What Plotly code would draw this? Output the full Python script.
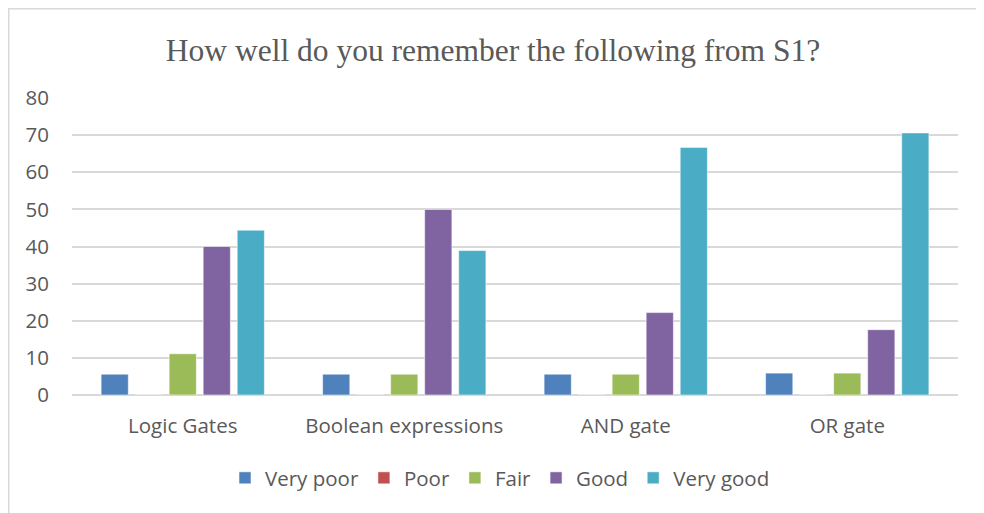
import plotly.graph_objects as go

categories = ["Logic Gates", "Boolean expressions", "AND gate", "OR gate"]
very_poor = [5.6, 5.6, 5.6, 5.9]
poor = [0, 0, 0, 0]
fair = [11.1, 5.6, 5.6, 5.9]
good = [40.0, 50.0, 22.2, 17.6]
very_good = [44.4, 38.9, 66.7, 70.6]

series = [
    ("Very poor", very_poor, "#4F81BD"),
    ("Poor", poor, "#C0504D"),
    ("Fair", fair, "#9BBB59"),
    ("Good", good, "#8064A2"),
    ("Very good", very_good, "#4BACC6"),
]

fig = go.Figure()
for name, vals, color in series:
    fig.add_trace(go.Bar(
        x=categories, y=vals, name=name,
        marker=dict(color=color, line=dict(color="rgba(255,255,255,0.55)", width=1)),
    ))

OFF = 8  # page body margin
W, H = 984 - OFF, 513 - OFF
L, R, T, B = 72 - OFF, 26, 98 - OFF, 118
pw, ph = W - L - R, H - T - B

def px_x(p):  # page pixel -> paper
    return (p - OFF - L) / pw

def px_y(p):
    return (H - B - (p - OFF)) / ph

FONT = "Open Sans"
FS = 20.5
fig.update_layout(
    width=W, height=H,
    margin=dict(l=L, r=R, t=T, b=B),
    paper_bgcolor="white", plot_bgcolor="white",
    barmode="group", bargap=0.232, bargroupgap=0.2,
    title=dict(
        text="How well do you remember the following from S1?",
        x=(493 - OFF) / W, xanchor="center", xref="container",
        y=1 - (50 - OFF) / H, yanchor="middle", yref="container",
        font=dict(family="Liberation Serif", size=31.5, color="#595959"),
    ),
    font=dict(family=FONT, size=FS, color="#595959"),
    xaxis=dict(
        showgrid=False, showline=False, ticks="",
        tickfont=dict(family=FONT, size=FS, color="#595959"),
        ticklabelstandoff=16,
    ),
    yaxis=dict(
        range=[0, 80], dtick=10, showgrid=True, gridcolor="#D9D9D9", gridwidth=1.5,
        zeroline=True, zerolinecolor="#D9D9D9", zerolinewidth=1.5,
        showline=False, ticks="",
        tickfont=dict(family=FONT, size=FS, color="#595959"),
        ticklabelstandoff=22,
    ),
    legend=dict(
        orientation="h", x=px_x(500), xanchor="center",
        y=px_y(478), yanchor="middle",
        font=dict(family=FONT, size=FS, color="#595959"),
        traceorder="normal",
    ),
    showlegend=True,
    shapes=[dict(
        type="rect", xref="paper", yref="paper",
        x0=px_x(OFF + 0.75), x1=px_x(1000), y0=px_y(530), y1=px_y(OFF + 0.75),
        line=dict(color="#D9D9D9", width=1.5), fillcolor="rgba(0,0,0,0)", layer="below",
    )],
)

fig.write_html("out.html")
